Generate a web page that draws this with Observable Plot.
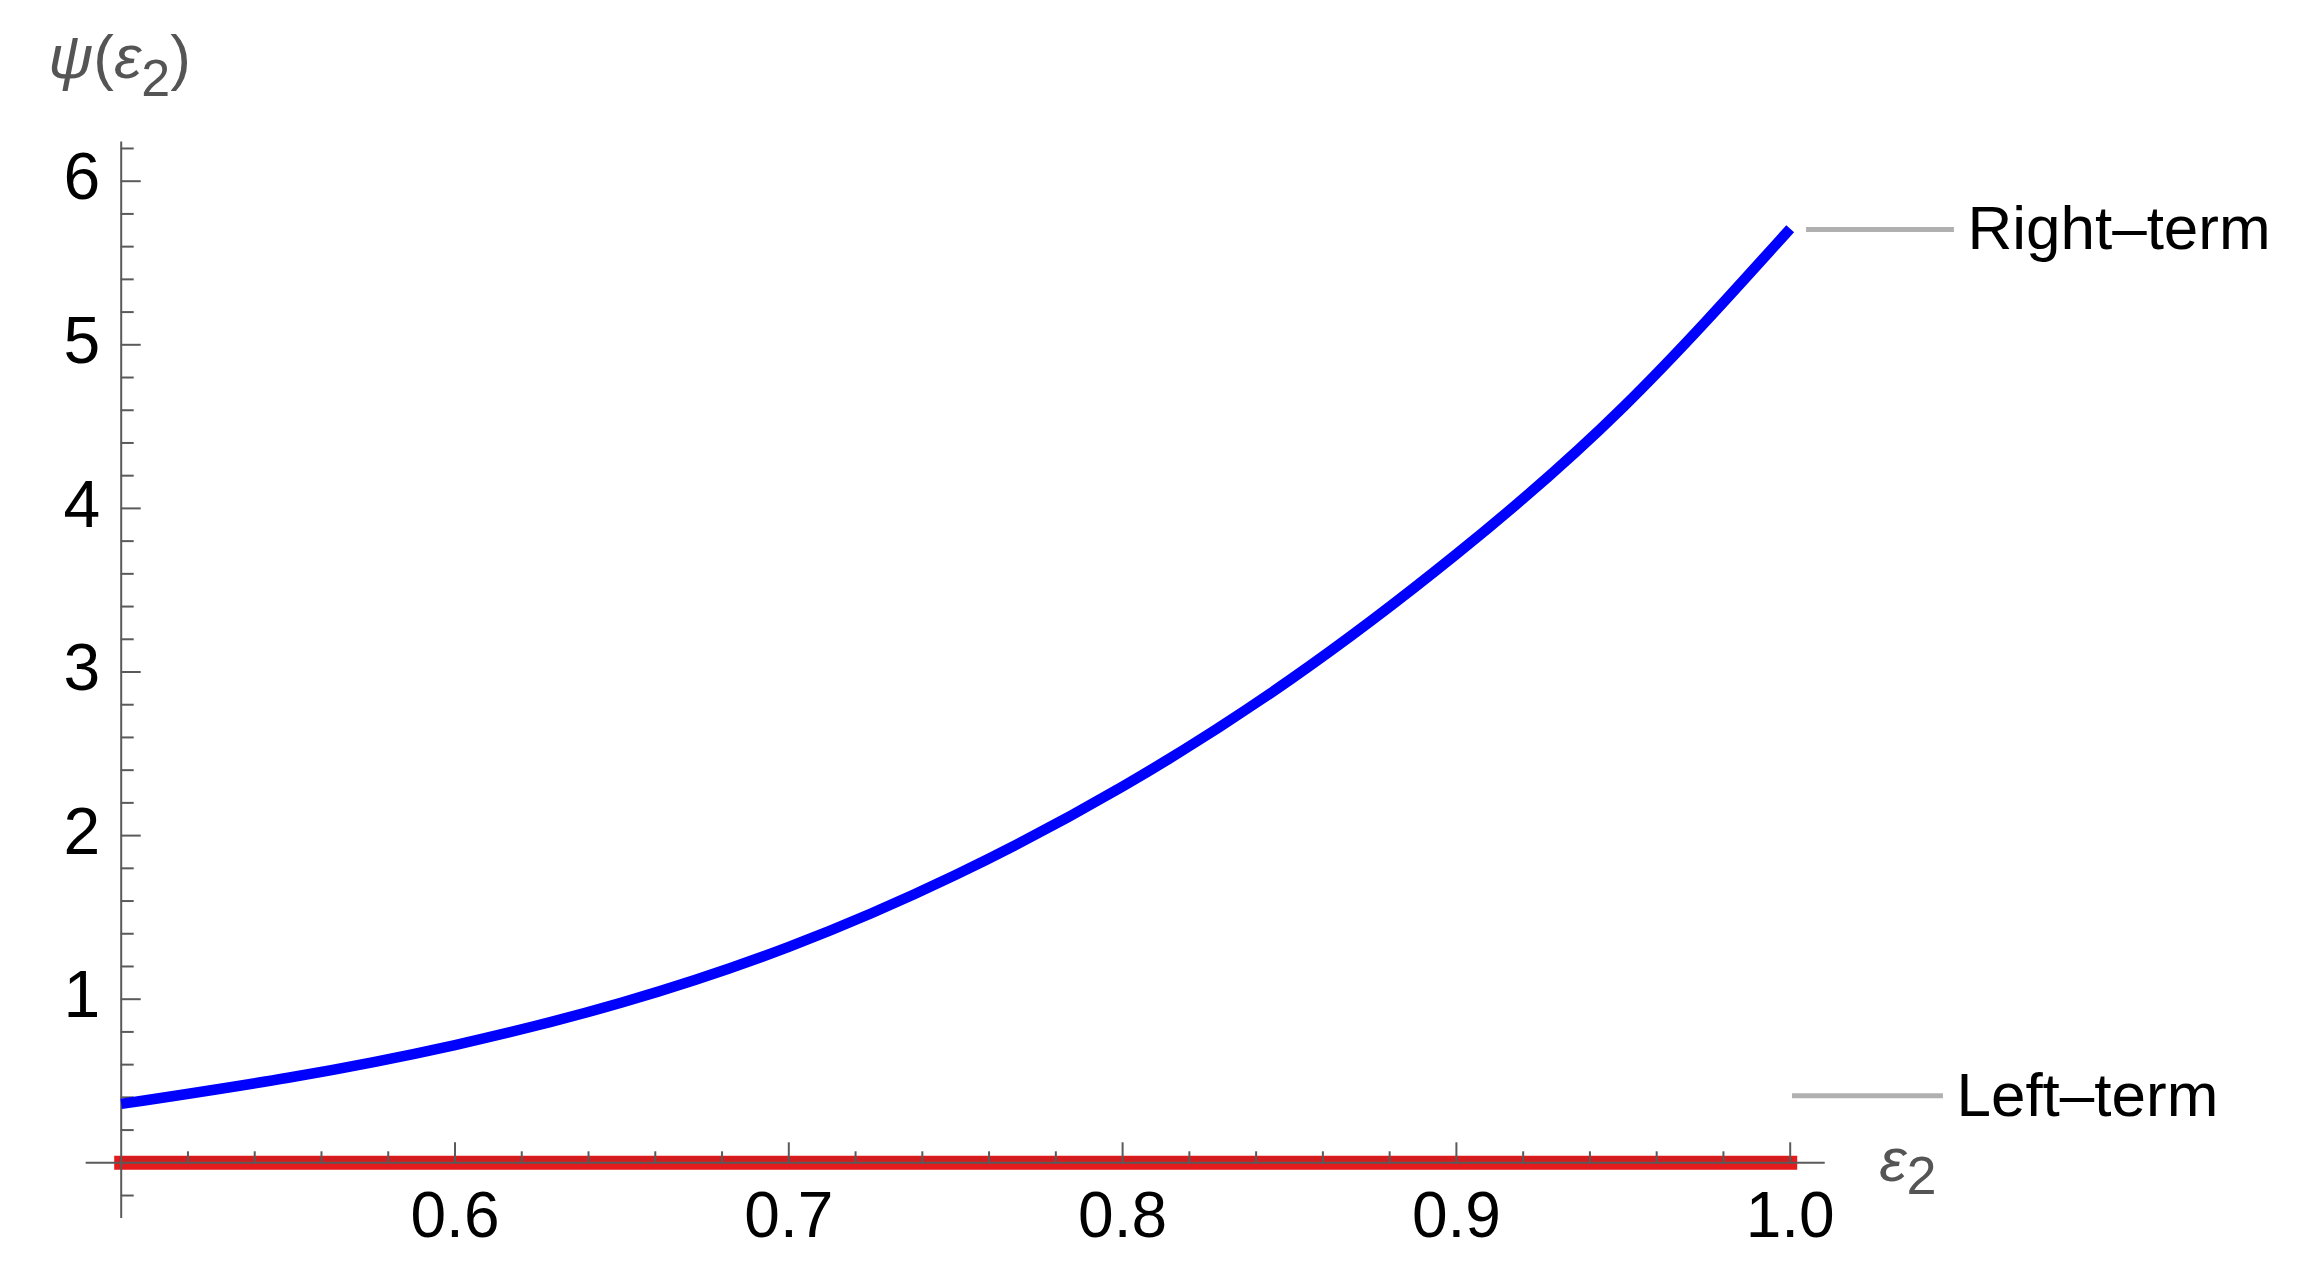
<!DOCTYPE html>
<html><head><meta charset="utf-8">
<script src="https://cdn.jsdelivr.net/npm/d3@7"></script>
<script src="https://cdn.jsdelivr.net/npm/@observablehq/plot@0.6"></script>
<style>html,body{margin:0;padding:0;background:#fff;overflow:hidden}</style>
</head><body><div id="chart"></div>
<script>
// ---- data ----
const eps2      = [0.50, 0.55, 0.60, 0.65, 0.70, 0.75, 0.80, 0.85, 0.90, 0.95, 1.00];
const rightTerm = [0.36, 0.52, 0.72, 0.98, 1.32, 1.76, 2.30, 2.95, 3.72, 4.62, 5.71];
const leftTerm  = [0, 0, 0, 0, 0, 0, 0, 0, 0, 0, 0];

const xMajorTicks = [0.6, 0.7, 0.8, 0.9, 1.0];
const xTickLabels = ["0.6", "0.7", "0.8", "0.9", "1.0"];
const yMajorTicks = [1, 2, 3, 4, 5, 6];
const yTickLabels = ["1", "2", "3", "4", "5", "6"];

const seriesNames  = ["Right\u2013term", "Left\u2013term"];
const seriesColors = ["#0000ff", "#e41a1c"];
const calloutY     = [5.705, 0.41];
const calloutX1    = [1.0049, 1.0007];
const calloutX2    = [1.0492, 1.0459];

const yLabelParts = ["\u03c8", "(", "\u03b5", "2", ")"];
const xLabelParts = ["\u03b5", "2"];

// ---- layout ----
const W = 2304, H = 1271;
const mL = 120.7, mR = 514.3, mT = 180.7, mB = 108.7;
const xDom = [0.5, 1.0], yDom = [0, 6];
const pxX = (W - mL - mR) / (xDom[1] - xDom[0]);
const pxY = (H - mT - mB) / (yDom[1] - yDom[0]);
const xAxisExtent = [0.4895, 1.0105];
const yAxisExtent = [-0.34, 6.24];
const axisColor = "#5a5a5a";

const xMinor = d3.range(0.52, 1.001, 0.02).map(v => +v.toFixed(2)).filter(v => !xMajorTicks.some(m => Math.abs(m - v) < 1e-9));
const yMinor = d3.range(-0.2, 6.201, 0.2).map(v => +v.toFixed(1)).filter(v => Math.abs(v - Math.round(v)) > 1e-9);

const series = eps2.flatMap((x, i) => [
  {x, y: rightTerm[i], s: seriesNames[0]},
  {x, y: leftTerm[i], s: seriesNames[1]}
]);
const callouts = seriesNames.map((s, i) => ({s, y: calloutY[i], x1: calloutX1[i], x2: calloutX2[i]}));
const xTicksData = xMajorTicks.map((v, i) => ({v, label: xTickLabels[i]}));
const yTicksData = yMajorTicks.map((v, i) => ({v, label: yTickLabels[i]}));

const fontFamily = "'Liberation Sans', Arial, sans-serif";

const svg = Plot.plot({
  width: W, height: H,
  marginLeft: mL, marginRight: mR, marginTop: mT, marginBottom: mB,
  style: {fontFamily, background: "white", overflow: "visible"},
  x: {domain: xDom, axis: null},
  y: {domain: yDom, axis: null},
  color: {domain: seriesNames, range: seriesColors},
  marks: [
    // red Left-term line
    Plot.line(series.filter(d => d.s === seriesNames[1]), {x: "x", y: "y", stroke: "s", strokeWidth: 14, strokeLinecap: "square"}),
    Plot.line(series.filter(d => d.s === seriesNames[1]), {x: "x", y: "y", stroke: "#a82222", strokeWidth: 5, dy: -3.5, strokeOpacity: 0.3}),
    // axes
    Plot.ruleY([0], {x1: xAxisExtent[0], x2: xAxisExtent[1], stroke: axisColor, strokeWidth: 2}),
    Plot.ruleX([xDom[0]], {y1: yAxisExtent[0], y2: yAxisExtent[1], stroke: axisColor, strokeWidth: 2}),
    Plot.ruleX(xMinor, {x: d => d, y1: 0, y2: 11 / pxY, stroke: axisColor, strokeWidth: 2}),
    Plot.ruleX(xMajorTicks, {x: d => d, y1: 0, y2: 20 / pxY, stroke: axisColor, strokeWidth: 2}),
    Plot.ruleY(yMinor, {y: d => d, x1: xDom[0], x2: xDom[0] + 13 / pxX, stroke: axisColor, strokeWidth: 2}),
    Plot.ruleY(yMajorTicks, {y: d => d, x1: xDom[0], x2: xDom[0] + 20 / pxX, stroke: axisColor, strokeWidth: 2}),
    // blue Right-term curve
    Plot.line(series.filter(d => d.s === seriesNames[0]), {x: "x", y: "y", stroke: "s", strokeWidth: 10.5, curve: "natural", strokeLinecap: "butt"}),
    // tick labels
    Plot.text(xTicksData, {x: "v", y: 0, text: "label", dy: 54, fontSize: 64, fill: "black"}),
    Plot.text(yTicksData, {x: xDom[0], y: "v", text: "label", dx: -21, dy: -3, textAnchor: "end", fontSize: 66, fill: "black"}),
    // callouts
    Plot.ruleY(callouts, {y: "y", x1: "x1", x2: "x2", stroke: "#b0b0b0", strokeWidth: 5}),
    Plot.text(callouts, {x: "x2", y: "y", text: "s", dx: 13, textAnchor: "start", fontSize: 62, fill: "black"}),
    // axis labels
    Plot.text([yLabelParts.join("")], {x: xDom[0], y: (mT - 77) / pxY + yDom[1], text: d => d, dx: -73, textAnchor: "start", lineAnchor: "bottom", fontSize: 62, fill: "#555"}),
    Plot.text([xLabelParts.join("")], {x: xDom[1], y: 0, text: d => d, dx: 89, dy: 18, textAnchor: "start", lineAnchor: "bottom", fontSize: 62, fill: "#555"})
  ]
});

// rich formatting of axis labels (italic Greek, lowered subscript)
d3.select(svg).selectAll("text").each(function() {
  const t = d3.select(this);
  const s = this.textContent;
  if (s === yLabelParts.join("")) {
    t.text(null);
    t.append("tspan").attr("font-style", "italic").text(yLabelParts[0]);
    t.append("tspan").text(yLabelParts[1]);
    t.append("tspan").attr("font-style", "italic").text(yLabelParts[2]);
    t.append("tspan").attr("font-size", 52).attr("dy", 18).text(yLabelParts[3]);
    t.append("tspan").attr("dy", -18).text(yLabelParts[4]);
  } else if (s === xLabelParts.join("")) {
    t.text(null);
    t.append("tspan").attr("font-style", "italic").text(xLabelParts[0]);
    t.append("tspan").attr("font-size", 54).attr("dy", 13).text(xLabelParts[1]);
  }
});

document.getElementById("chart").appendChild(svg);
</script>
</body></html>
